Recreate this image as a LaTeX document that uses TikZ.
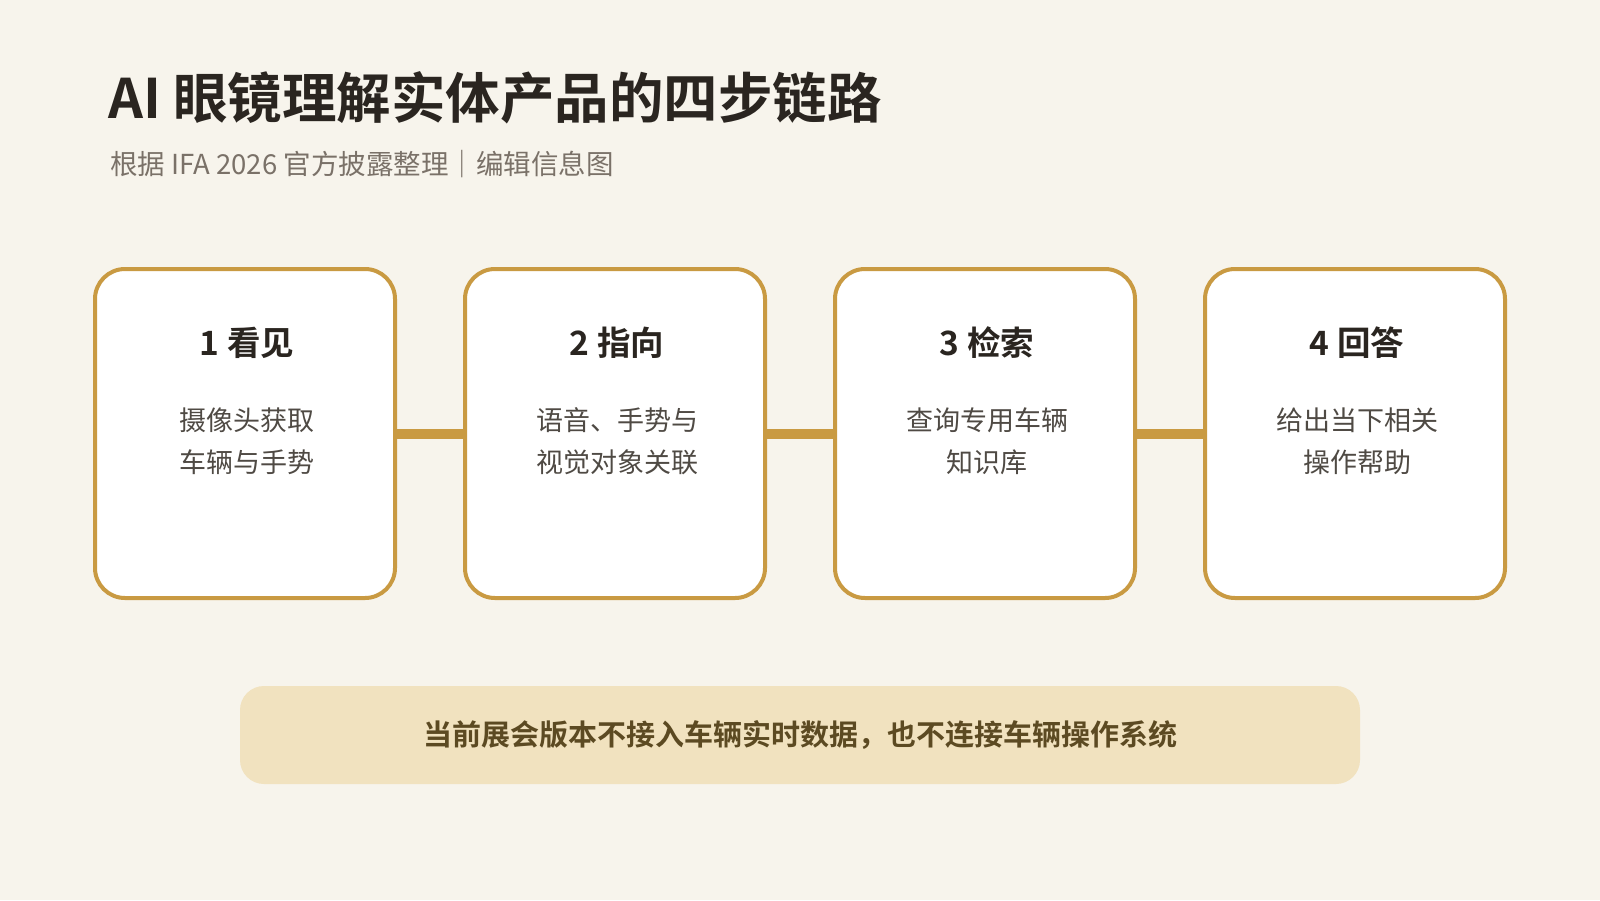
\documentclass[tikz,border=0pt]{standalone}
\usepackage{fontspec}
\setmainfont{Noto Sans CJK SC}[BoldFont={Noto Sans CJK SC Bold}]
\definecolor{bg}{HTML}{F7F4EC}
\definecolor{gold}{HTML}{C99A42}
\definecolor{notefill}{HTML}{F1E2BF}
\definecolor{notetext}{HTML}{5C4A22}
\definecolor{ink}{HTML}{2A2520}
\definecolor{subink}{HTML}{7A7168}
\definecolor{bodyink}{HTML}{4F4A44}
\tikzset{
  card/.style={draw=gold, line width=4pt, fill=white, rounded corners=30pt,
    minimum width=300pt, minimum height=329pt, inner sep=0pt},
  cardtitle/.style={anchor=base, inner sep=0pt, text=ink,
    font=\fontsize{33.5}{40}\selectfont\bfseries},
  cardbody/.style={anchor=base, inner sep=0pt, text=bodyink,
    font=\fontsize{27}{32}\selectfont},
  link/.style={draw=gold, line width=10pt},
  note/.style={fill=notefill, rounded corners=24pt, minimum width=1120pt,
    minimum height=98pt, inner sep=0pt, text=notetext,
    font=\fontsize{29}{34}\selectfont\bfseries}
}
\begin{document}
\begin{tikzpicture}[x=1pt,y=-1pt]
\useasboundingbox[fill=bg] (0,0) rectangle (1600,900);
\node[anchor=base west, inner sep=0pt, text=ink, font=\fontsize{54.5}{64}\selectfont\bfseries] (title) at (108,118) {AI 眼镜理解实体产品的四步链路};
\node[anchor=base west, inner sep=0pt, text=subink, font=\fontsize{27.5}{33}\selectfont] (subtitle) at (110,174) {根据 IFA 2026 官方披露整理｜编辑信息图};
\foreach \i/\x/\t/\a/\b in {1/247/1 看见/摄像头获取/车辆与手势,
                            2/617/2 指向/语音、手势与/视觉对象关联,
                            3/987/3 检索/查询专用车辆/知识库,
                            4/1357/4 回答/给出当下相关/操作帮助}{
  \node[card] (c\i) at (\x-2,433.5) {};
  \node[cardtitle] (c\i t) at (\x,355) {\t};
  \node[cardbody] (c\i a) at (\x,430) {\a};
  \node[cardbody] (c\i b) at (\x,472) {\b};
}
\draw[link] (c1.east) -- (c2.west);
\draw[link] (c2.east) -- (c3.west);
\draw[link] (c3.east) -- (c4.west);
\node[note] (banner) at (800,735) {当前展会版本不接入车辆实时数据，也不连接车辆操作系统};
\end{tikzpicture}
\end{document}
